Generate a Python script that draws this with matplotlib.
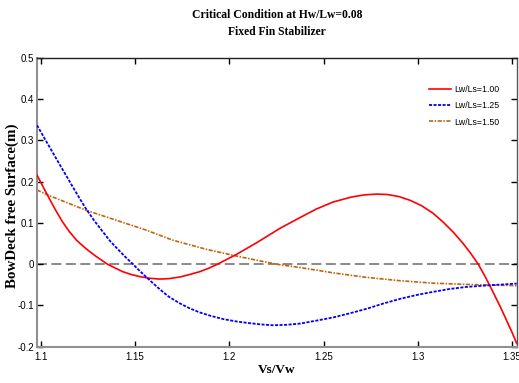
import matplotlib
matplotlib.use("Agg")
import matplotlib.pyplot as plt
from matplotlib import font_manager

# ---- data ----
red_x = [1.098, 1.1036, 1.108, 1.1115, 1.115, 1.119, 1.1239, 1.129, 1.1354, 1.1434,
         1.148, 1.1525, 1.1575, 1.163, 1.168, 1.1738, 1.179, 1.1844, 1.189, 1.1933,
         1.2039, 1.2145, 1.2269, 1.2375, 1.2463, 1.2552, 1.265, 1.2715, 1.2782, 1.284,
         1.290, 1.2959, 1.302, 1.308, 1.3135, 1.319, 1.3241, 1.328, 1.3321, 1.336,
         1.3401, 1.344, 1.3472, 1.350, 1.3525]
red_y = [0.216, 0.167, 0.130, 0.103, 0.080, 0.058, 0.038, 0.020, 0.000, -0.018,
         -0.025, -0.030, -0.034, -0.036, -0.035, -0.031, -0.025, -0.018, -0.010, -0.001,
         0.024, 0.052, 0.087, 0.113, 0.134, 0.151, 0.163, 0.168, 0.170, 0.169,
         0.164, 0.155, 0.142, 0.124, 0.102, 0.077, 0.050, 0.027, 0.000, -0.032,
         -0.069, -0.105, -0.137, -0.165, -0.192]

blue_x = [1.098, 1.102, 1.1062, 1.1105, 1.115, 1.1195, 1.1239, 1.1283, 1.1327, 1.137,
          1.1416, 1.145, 1.1487, 1.152, 1.1557, 1.1595, 1.1632, 1.168, 1.1738, 1.179,
          1.1844, 1.190, 1.1968, 1.204, 1.2109, 1.217, 1.2233, 1.230, 1.2375, 1.246,
          1.2552, 1.264, 1.2729, 1.282, 1.2906, 1.300, 1.3082, 1.317, 1.326, 1.3383, 1.3525]
blue_y = [0.337, 0.305, 0.272, 0.238, 0.203, 0.168, 0.135, 0.106, 0.080, 0.055,
          0.033, 0.017, 0.001, -0.014, -0.030, -0.046, -0.061, -0.079, -0.095, -0.107,
          -0.117, -0.125, -0.133, -0.139, -0.143, -0.146, -0.148, -0.147, -0.144, -0.137,
          -0.129, -0.119, -0.108, -0.095, -0.084, -0.074, -0.067, -0.060, -0.055, -0.051, -0.047]

orange_x = [1.098, 1.1036, 1.1239, 1.1557, 1.1702, 1.188, 1.2056, 1.2251, 1.2375, 1.2552,
            1.2729, 1.2906, 1.3082, 1.326, 1.3525]
orange_y = [0.180, 0.168, 0.131, 0.083, 0.058, 0.036, 0.018, 0.000, -0.008, -0.021,
            -0.032, -0.040, -0.046, -0.049, -0.052]

series_labels = ["Lw/Ls=1.00", "Lw/Ls=1.25", "Lw/Ls=1.50"]
x_ticks = [1.1, 1.15, 1.2, 1.25, 1.3, 1.35]
x_tick_labels = ["1.1", "1.15", "1.2", "1.25", "1.3", "1.35"]
y_ticks = [-0.2, -0.1, 0, 0.1, 0.2, 0.3, 0.4, 0.5]
y_tick_labels = ["-0.2", "-0.1", "0", "0.1", "0.2", "0.3", "0.4", "0.5"]

# ---- fonts ----
serif = ["Liberation Serif", "DejaVu Serif"]
ttf = font_manager.fontManager.ttflist
names = {f.name for f in ttf}
if "Liberation Sans Narrow" in names:
    sans_fp = dict(family="Liberation Sans Narrow")
    tick_fs, leg_fs = 8, 7.5
else:
    sans_fp = dict(family="Liberation Sans")
    tick_fs, leg_fs = 7, 6.3

fig = plt.figure(figsize=(5.19, 3.83), dpi=100)
W, H = 519, 383
l, r, t, b = 37, 516.7, 58, 346.7
ax = fig.add_axes([l / W, 1 - b / H, (r - l) / W, (b - t) / H])

ax.axhline(0, color="#808080", lw=1.3, dashes=(5.5, 2.5), zorder=1)
ax.plot(red_x, red_y, color="#ff0000", lw=1.2, label=series_labels[0], zorder=3)
ax.plot(blue_x, blue_y, color="#0000ff", lw=1.3, dashes=(1.7, 0.8), label=series_labels[1], zorder=3)
ax.plot(orange_x, orange_y, color="#c0640a", lw=1.2, dashes=(2.5, 0.9, 0.9, 0.9), label=series_labels[2], zorder=2)

ax.set_xlim(1.098, 1.3525)
ax.set_ylim(-0.2, 0.5)
ax.set_xticks(x_ticks)
ax.set_xticklabels(x_tick_labels, fontsize=tick_fs, **sans_fp)
ax.set_yticks(y_ticks)
ax.set_yticklabels(y_tick_labels, fontsize=tick_fs, **sans_fp)
ax.tick_params(direction="in", top=True, right=True, length=4, width=1)
ax.tick_params(axis="x", pad=4)
ax.tick_params(axis="y", pad=2)

for side in ("left", "bottom"):
    ax.spines[side].set_color("#909090")
    ax.spines[side].set_linewidth(1.5)
ax.spines["top"].set_color("#222222")
ax.spines["right"].set_color("#555555")
ax.spines["top"].set_linewidth(1)
ax.spines["right"].set_linewidth(1)

ax.set_xlabel("Vs/Vw", family=serif, fontweight="bold", fontsize=9.5)
ax.xaxis.label.set_va("center")
ax.xaxis.set_label_coords(0.5, (b - 370) / (b - t))
ax.set_ylabel("BowDeck free Surface(m)", family=serif, fontweight="bold", fontsize=10.8)
ax.yaxis.label.set_va("center")
ax.yaxis.set_label_coords((12 - l) / (r - l), (b - 206) / (b - t))

fig.text(277 / W, 1 - 15 / H, "Critical Condition at Hw/Lw=0.08", family=serif,
         fontweight="bold", fontsize=8.4, ha="center", va="center")
fig.text(277 / W, 1 - 32 / H, "Fixed Fin Stabilizer", family=serif,
         fontweight="bold", fontsize=8.4, ha="center", va="center")

leg_prop = dict(size=leg_fs, **sans_fp)
leg = ax.legend(loc="upper right", bbox_to_anchor=(0.98, 0.935), frameon=False,
                prop=leg_prop, handlelength=2.6, handletextpad=0.3,
                labelspacing=0.85)

fig.savefig("out.png", dpi=100)
